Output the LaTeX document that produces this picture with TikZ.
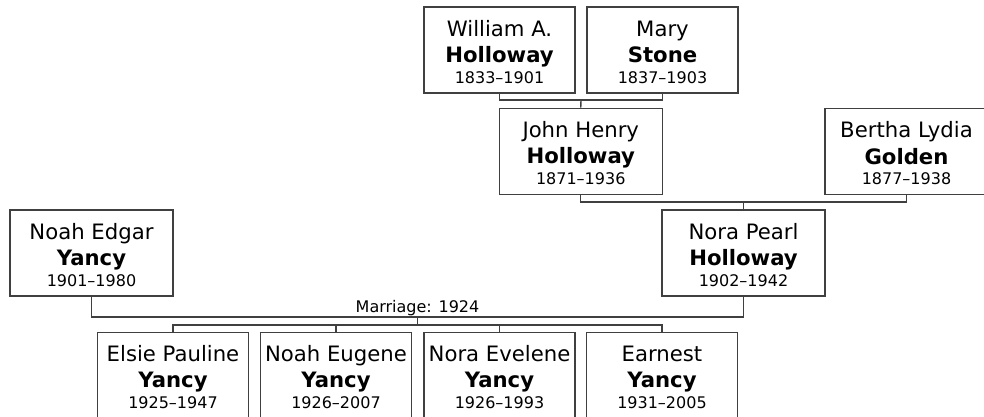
\documentclass[tikz,border=0pt]{standalone}
\usepackage{fontspec}
\setmainfont{DejaVu Sans}
\usetikzlibrary{positioning}

% name block: given names, surname, years
\newcommand{\person}[3]{\begin{tabular}{@{}c@{}}\rule{0pt}{27pt}#1\\\textbf{#2}\\[-6pt]{\fontsize{16}{18}\selectfont #3}\end{tabular}}

\begin{document}
\begin{tikzpicture}[
    x=1pt, y=-1pt, line width=1.4pt, draw=black!75,
    every node/.style={align=center, inner sep=0pt},
    personbox/.style={draw=black!75, line width=1.4pt, minimum height=86pt, minimum width=151pt, font=\fontsize{21.2}{26.5}\selectfont},
    widebox/.style={personbox, minimum width=163pt},
    kin/.style={draw=black!75, line width=1.4pt}
]
\useasboundingbox (0,0) rectangle (984,416);

\node (william_holloway) [personbox] at (499.5,50) {\person{William A.}{Holloway}{1833--1901}};
\node (mary_stone) [personbox] at (662.5,50) {\person{Mary}{Stone}{1837--1903}};
\node (john_holloway) [widebox] at (580.75,151.3) {\person{John Henry}{Holloway}{1871--1936}};
\node (bertha_golden) [widebox] at (906.5,151.5) {\person{Bertha Lydia}{Golden}{1877--1938}};
\node (noah_yancy) [widebox] at (91.5,253) {\person{Noah Edgar}{Yancy}{1901--1980}};
\node (nora_holloway) [widebox] at (743.5,253) {\person{Nora Pearl}{Holloway}{1902--1942}};
\node (elsie_yancy) [personbox] at (173,375.3) {\person{Elsie Pauline}{Yancy}{1925--1947}};
\node (noah_eugene_yancy) [personbox] at (336,375.3) {\person{Noah Eugene}{Yancy}{1926--2007}};
\node (nora_evelene_yancy) [personbox] at (499.5,375.3) {\person{Nora Evelene}{Yancy}{1926--1993}};
\node (earnest_yancy) [personbox] at (662,375.3) {\person{Earnest}{Yancy}{1931--2005}};

\coordinate (holloway_stone) at (581,100);
\coordinate (holloway_golden) at (743.5,202);
\coordinate (yancy_holloway) at (417.5,317);
\coordinate (yancy_children) at (417.5,325);

\draw[kin] (william_holloway.south) |- (holloway_stone) -| (mary_stone.south);
\draw[kin] (holloway_stone) -- (john_holloway.north);
\draw[kin] (john_holloway.south) |- (holloway_golden) -| (bertha_golden.south);
\draw[kin] (holloway_golden) -- (nora_holloway.north);
\draw[kin] (noah_yancy.south) |- (yancy_holloway) -| (nora_holloway.south);
\node (marriage_label) [anchor=base, font=\fontsize{16}{18}\selectfont] at (417.5,312) {Marriage: 1924};
\draw[kin] (yancy_holloway) -- (yancy_children);
\draw[kin] (elsie_yancy.north) |- (yancy_children) -| (earnest_yancy.north);
\draw[kin] (noah_eugene_yancy.north) |- (yancy_children);
\draw[kin] (nora_evelene_yancy.north) |- (yancy_children);
\end{tikzpicture}
\end{document}
